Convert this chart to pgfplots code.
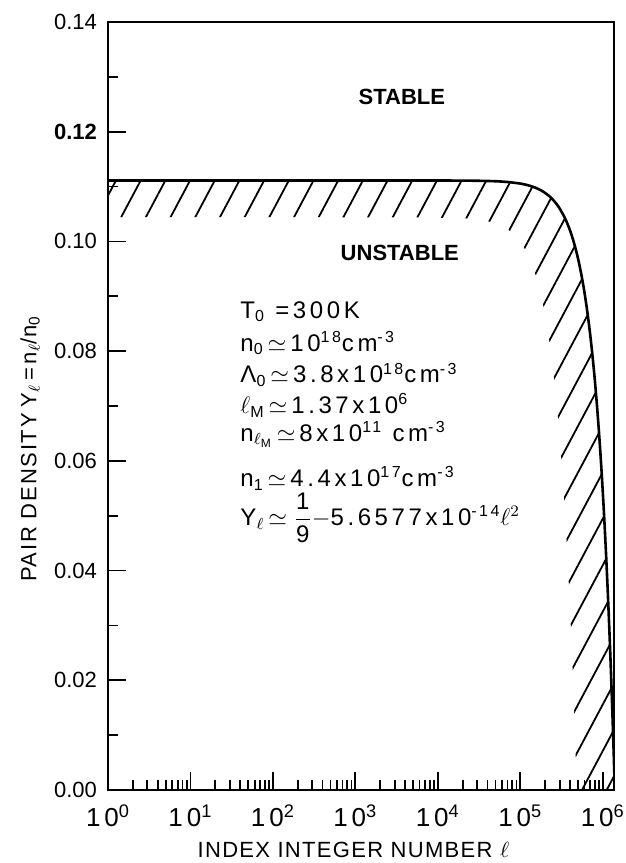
\documentclass[border=0pt]{standalone}
\usepackage{fontspec}
\setmainfont{Liberation Sans}
\usepackage{amsmath}
\usepackage{pgfplots}
\pgfplotsset{compat=1.18}
\usetikzlibrary{patterns.meta}

% Y_l = 1/9 - 5.6577e-14 l^2
\pgfplotstableread{
l        Y
1        0.111111
1000     0.111111
10000    0.111106
30000    0.111060
50000    0.110970
70000    0.110834
100000   0.110545
125000   0.110227
150000   0.109838
175000   0.109378
200000   0.108848
225000   0.108247
250000   0.107575
275000   0.106833
300000   0.106019
350000   0.104180
400000   0.102059
450000   0.099654
500000   0.096967
550000   0.093996
600000   0.090743
650000   0.087207
700000   0.083388
750000   0.079286
800000   0.074902
850000   0.070234
900000   0.065284
950000   0.060050
1000000  0.054534
1050000  0.048735
1100000  0.042653
1150000  0.036288
1200000  0.029640
1250000  0.022709
1300000  0.015496
1350000  0.007999
1370000  0.004922
1400000  0.000220
}\curve

\newcommand{\lbl}{\fontsize{11}{13}\selectfont}

\begin{document}
\begin{tikzpicture}
\begin{axis}[
    name=ax,
    scale only axis,
    width=253pt, height=384pt,
    xmode=log, xmin=1, xmax=1.37e6,
    ymin=0, ymax=0.14,
    axis line style={line width=1pt},
    xtick={1,10,100,1000,10000,100000,1000000},
    xticklabels={10\textsuperscript{0},10\textsuperscript{1},10\textsuperscript{2},10\textsuperscript{3},10\textsuperscript{4},10\textsuperscript{5},10\textsuperscript{6}},
    minor xtick={2,3,4,5,6,7,8,9,20,30,40,50,60,70,80,90,200,300,400,500,600,700,800,900,2000,3000,4000,5000,6000,7000,8000,9000,20000,30000,40000,50000,60000,70000,80000,90000,200000,300000,400000,500000,600000,700000,800000,900000},
    ytick={0,0.02,0.04,0.06,0.08,0.10,0.12,0.14},
    yticklabels={0.00,0.02,0.04,0.06,0.08,0.10,\textbf{0.12},0.14},
    minor ytick={0.01,0.03,0.05,0.07,0.09,0.11,0.13},
    tick align=inside, xtick pos=bottom, ytick pos=left,
    major tick length=9pt, minor tick length=5pt,
    every tick/.style={black, line width=0.9pt},
    yticklabel style={font=\lbl, xshift=-2pt},
    xticklabel style={font=\fontsize{13}{15}\selectfont\addfontfeatures{LetterSpace=15}, yshift=-4pt},
    xlabel={\addfontfeatures{LetterSpace=6}INDEX INTEGER NUMBER $\ell$},
    xlabel style={at={(axis description cs:0.485,0)}, anchor=center, yshift=-30pt, font=\lbl},
    ylabel={{\addfontfeatures{LetterSpace=8}PAIR DENSITY} Y\textsubscript{$\ell$}\,=\,n\textsubscript{$\ell$}/n\textsubscript{0}},
    ylabel style={at={(axis description cs:-0.154,0.444)}, anchor=center, font=\fontsize{11}{13}\selectfont},
]
% hatched band just inside the curve
\addplot[draw=none, forget plot, pattern={Lines[angle=62, distance=10.9pt, line width=0.9pt]}]
coordinates {
(1,0.111111) (1000,0.111111) (10000,0.111106) (30000,0.111060) (50000,0.110970)
(70000,0.110834) (100000,0.110545) (125000,0.110227) (150000,0.109838)
(175000,0.109378) (200000,0.108848) (225000,0.108247) (250000,0.107575)
(275000,0.106833) (300000,0.106019) (350000,0.104180) (400000,0.102059)
(450000,0.099654) (500000,0.096967) (550000,0.093996) (600000,0.090743)
(650000,0.087207) (700000,0.083388) (750000,0.079286) (800000,0.074902)
(850000,0.070234) (900000,0.065284) (950000,0.060050) (1000000,0.054534)
(1050000,0.048735) (1100000,0.042653) (1150000,0.036288) (1200000,0.029640)
(1250000,0.022709) (1300000,0.015496) (1350000,0.007999) (1400000,0.000220)
(1400000,0) (485200,0)
(482100,0.001299) (464300,0.008796) (446400,0.016009) (428600,0.022940)
(410700,0.029588) (392900,0.035953) (375000,0.042035) (357100,0.047834)
(339300,0.053350) (321400,0.058584) (303600,0.063534) (285700,0.068202)
(267900,0.072586) (250000,0.076688) (232100,0.080507) (214300,0.084043)
(196400,0.087296) (178600,0.090267) (160700,0.092954) (142900,0.095359)
(125000,0.097480) (107100,0.099319) (98210,0.100133) (89290,0.100875)
(80360,0.101547) (71430,0.102148) (62500,0.102678) (53570,0.103138)
(44640,0.103527) (35710,0.103845) (25000,0.104134) (17860,0.104270)
(3571,0.104406) (1,0.104411)
} -- cycle;
\addplot[black, line width=1.3pt, smooth] table[x=l, y=Y] {\curve};

\node[font=\bfseries\fontsize{11}{13}\selectfont] at (axis cs:3660,0.1263) {STABLE};
\node[font=\bfseries\fontsize{11}{13}\selectfont] at (axis cs:3460,0.0979) {UNSTABLE};

\begin{scope}[every node/.style={anchor=base west, font=\fontsize{12}{14}\selectfont\addfontfeatures{LetterSpace=15}, inner sep=0pt}]
\node at (axis cs:40,0.0860) {T\textsubscript{0} =300K};
\node at (axis cs:40,0.0800) {n\textsubscript{0}$\,\simeq\,$10\textsuperscript{18}cm\textsuperscript{-3}};
\node at (axis cs:40,0.0742) {Λ\textsubscript{0}$\,\simeq\,$3.8x10\textsuperscript{18}cm\textsuperscript{-3}};
\node at (axis cs:40,0.0686) {$\ell$\textsubscript{M}$\,\simeq\,$1.37x10\textsuperscript{6}};
\node at (axis cs:40,0.0636) {n\textsubscript{$\ell_{\mathrm{M}}$}$\,\simeq\,$8x10\textsuperscript{11} cm\textsuperscript{-3}};
\node at (axis cs:40,0.0553) {n\textsubscript{1}$\,\simeq\,$4.4x10\textsuperscript{17}cm\textsuperscript{-3}};
\node at (axis cs:40,0.0482) {Y\textsubscript{$\ell$}$\,\simeq\dfrac{\text{1}}{\text{9}}$$-$5.6577x10\textsuperscript{-14}$\ell^{2}$};
\end{scope}
\end{axis}
\pgfresetboundingbox
\path ([xshift=-54pt,yshift=-36.5pt]ax.south west) rectangle ([xshift=6pt,yshift=11pt]ax.north east);
\end{tikzpicture}
\end{document}
